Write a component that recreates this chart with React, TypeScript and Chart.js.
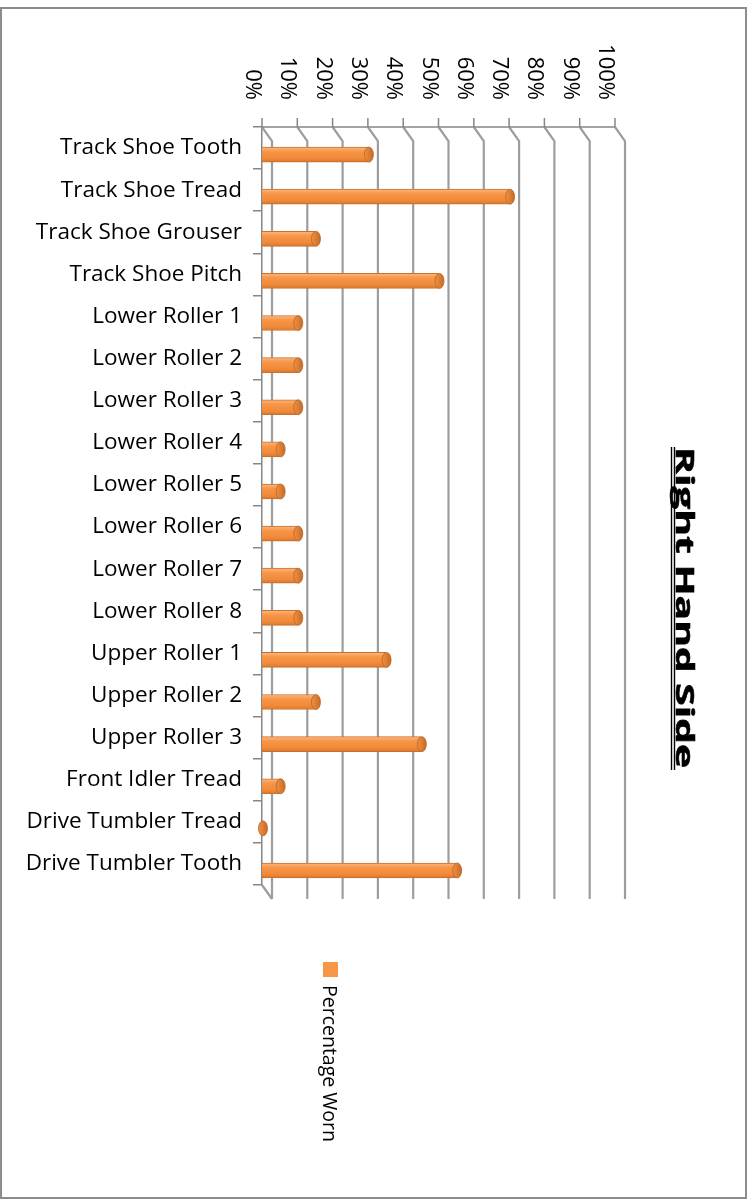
import React, { useEffect, useRef } from 'react';
import { Chart, registerables } from 'chart.js';

Chart.register(...registerables);

const categories = [
  'Track Shoe Tooth',
  'Track Shoe Tread',
  'Track Shoe Grouser',
  'Track Shoe Pitch',
  'Lower Roller 1',
  'Lower Roller 2',
  'Lower Roller 3',
  'Lower Roller 4',
  'Lower Roller 5',
  'Lower Roller 6',
  'Lower Roller 7',
  'Lower Roller 8',
  'Upper Roller 1',
  'Upper Roller 2',
  'Upper Roller 3',
  'Front Idler Tread',
  'Drive Tumbler Tread',
  'Drive Tumbler Tooth',
];
const percentageWorn = [30, 70, 15, 50, 10, 10, 10, 5, 5, 10, 10, 10, 35, 15, 45, 5, 0, 55];
const tickValues = [0, 10, 20, 30, 40, 50, 60, 70, 80, 90, 100];
const tickLabels = ['0%', '10%', '20%', '30%', '40%', '50%', '60%', '70%', '80%', '90%', '100%'];
const seriesName = 'Percentage Worn';
const chartTitle = 'Right Hand Side';

const FONT = "'Open Sans', 'Liberation Sans', sans-serif";
const GRID = '#9d9d9d';
const AXIS = '#868686';
const ORANGE = '#F79646';
const DX = 10;
const DY = 14;
const BAR_SHIFT = 0.155;

const decor = {
  id: 'decor',
  beforeDatasetsDraw(chart: any) {
    const { ctx, chartArea: a, scales } = chart;
    const x = scales.x;
    ctx.save();
    ctx.strokeStyle = GRID;
    ctx.lineWidth = 2.2;
    tickValues.forEach((v) => {
      const px = x.getPixelForValue(v);
      ctx.beginPath();
      ctx.moveTo(px, a.top);
      ctx.lineTo(px + DX, a.top + DY);
      ctx.lineTo(px + DX, a.bottom + DY);
      ctx.stroke();
    });
    ctx.beginPath();
    ctx.moveTo(a.left, a.bottom);
    ctx.lineTo(a.left + DX, a.bottom + DY);
    ctx.stroke();

    ctx.strokeStyle = AXIS;
    ctx.lineWidth = 1.5;
    ctx.beginPath();
    ctx.moveTo(a.left, a.top);
    ctx.lineTo(x.getPixelForValue(100), a.top);
    tickValues.forEach((v) => {
      const px = x.getPixelForValue(v);
      ctx.moveTo(px, a.top - 9);
      ctx.lineTo(px, a.top);
    });
    ctx.stroke();

    // rotated value tick labels
    ctx.fillStyle = '#000';
    ctx.font = `22px ${FONT}`;
    ctx.textAlign = 'right';
    ctx.textBaseline = 'alphabetic';
    tickValues.forEach((v, i) => {
      const px = x.getPixelForValue(v);
      ctx.save();
      ctx.translate(px - 16, a.top - 27);
      ctx.rotate(Math.PI / 2);
      ctx.fillText(tickLabels[i], 0, 0);
      ctx.restore();
    });
    ctx.restore();
  },
  afterDatasetsDraw(chart: any) {
    const { ctx } = chart;
    const meta = chart.getDatasetMeta(0);
    ctx.save();
    meta.data.forEach((bar: any) => {
      const p = bar.getProps(['x', 'y', 'height'], true);
      if (![p.x, p.y, p.height].every((n: number) => Number.isFinite(n))) return;
      const h = Math.abs(p.height) / 2;
      const g = ctx.createLinearGradient(p.x - 5, 0, p.x + 5, 0);
      g.addColorStop(0, '#f79646');
      g.addColorStop(1, '#c96d27');
      ctx.beginPath();
      ctx.ellipse(p.x + 1, p.y, 4.5, h, 0, 0, Math.PI * 2);
      ctx.fillStyle = g;
      ctx.fill();
      ctx.strokeStyle = '#b8662a';
      ctx.lineWidth = 0.8;
      ctx.stroke();
    });
    ctx.restore();
  },
  afterDraw(chart: any) {
    const { ctx } = chart;
    ctx.save();
    // title
    ctx.fillStyle = '#000';
    ctx.strokeStyle = '#000';
    ctx.font = `bold 25px ${FONT}`;
    ctx.textAlign = 'left';
    ctx.textBaseline = 'alphabetic';
    const w = ctx.measureText(chartTitle).width || 1;
    const targetLen = 321;
    ctx.save();
    ctx.translate(676, 447);
    ctx.rotate(Math.PI / 2);
    ctx.scale(targetLen / w, 1);
    ctx.lineWidth = 0.6;
    ctx.fillText(chartTitle, 0, 0);
    ctx.strokeText(chartTitle, 0, 0);
    ctx.restore();
    ctx.lineWidth = 1.4;
    ctx.beginPath();
    ctx.moveTo(671.5, 447);
    ctx.lineTo(671.5, 770);
    ctx.moveTo(674.5, 447);
    ctx.lineTo(674.5, 770);
    ctx.stroke();

    // legend
    ctx.fillStyle = ORANGE;
    ctx.fillRect(323, 962, 15, 15);
    ctx.fillStyle = '#000';
    ctx.font = `19.5px ${FONT}`;
    ctx.save();
    ctx.translate(323, 985);
    ctx.rotate(Math.PI / 2);
    ctx.fillText(seriesName, 0, 0);
    ctx.restore();

    // frame
    ctx.strokeStyle = '#8c8c8c';
    ctx.lineWidth = 2;
    ctx.strokeRect(1, 8, 745, 1190);
    ctx.restore();
  },
};

export default function App() {
  const ref = useRef<HTMLCanvasElement>(null);
  useEffect(() => {
    const canvas = ref.current;
    if (!canvas) return;
    const chart = new Chart(canvas, {
      type: 'bar',
      data: {
        labels: categories,
        datasets: [
          {
            label: seriesName,
            data: percentageWorn.map((v, i) => ({ x: v, y: i })) as any,
            xAxisID: 'x',
            yAxisID: 'yb',
            barThickness: 15,
            borderWidth: 1,
            borderColor: '#c8702c',
            backgroundColor: (c: any) => {
              const chart = c.chart;
              const ys = chart.scales && chart.scales.yb;
              if (c.type !== 'data' || !ys) return ORANGE;
              const yc = ys.getPixelForValue(c.dataIndex);
              if (!Number.isFinite(yc)) return ORANGE;
              const g = chart.ctx.createLinearGradient(0, yc - 7.5, 0, yc + 7.5);
              g.addColorStop(0, '#fbb884');
              g.addColorStop(0.3, '#f79646');
              g.addColorStop(0.75, '#f08a3a');
              g.addColorStop(1, '#d5772f');
              return g;
            },
          },
        ],
      },
      options: {
        indexAxis: 'y',
        responsive: false,
        animation: false,
        devicePixelRatio: 1,
        layout: { padding: { left: 0, top: 127, right: 138, bottom: 315 } },
        scales: {
          x: { type: 'linear', position: 'top', min: 0, max: 100, display: false },
          yb: {
            type: 'linear',
            display: false,
            reverse: true,
            offset: false,
            bounds: 'data',
            grace: 0,
            min: -0.5 - BAR_SHIFT,
            max: categories.length - 0.5 - BAR_SHIFT,
          },
          y: {
            type: 'category',
            position: 'left',
            offset: true,
            grid: {
              display: true,
              offset: true,
              drawOnChartArea: false,
              drawTicks: true,
              tickLength: 9,
              color: AXIS,
              lineWidth: 1.5,
            },
            border: { display: true, color: AXIS, width: 1.5 },
            ticks: {
              padding: 11,
              color: '#000',
              autoSkip: false,
              font: { family: FONT, size: 22.5 },
            },
            afterFit: (s: any) => {
              s.width = 262;
            },
          },
        } as any,
        plugins: {
          legend: { display: false },
          title: { display: false },
          tooltip: { enabled: false },
        },
      },
      plugins: [decor],
    });
    return () => chart.destroy();
  }, []);
  return (
    <div style={{ position: 'absolute', left: 0, top: 0, width: 753, height: 1200, background: '#fff' }}>
      <canvas ref={ref} width={753} height={1200} style={{ display: 'block', width: 753, height: 1200 }} />
    </div>
  );
}
